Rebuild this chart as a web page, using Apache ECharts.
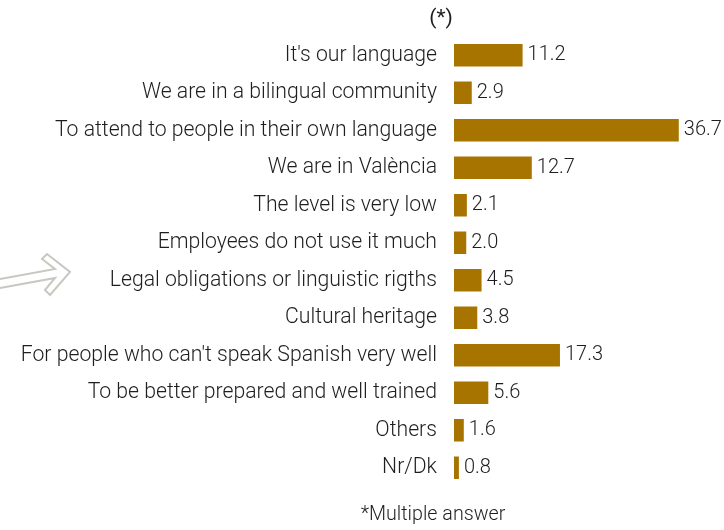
<!DOCTYPE html>
<html>
<head>
<meta charset="utf-8">
<script src="https://cdn.jsdelivr.net/npm/echarts@6/dist/echarts.min.js"></script>
<style>
html,body{margin:0;padding:0;background:#fff;}
#chart{width:724px;height:530px;}
</style>
</head>
<body>
<div id="chart"></div>
<script>
var categories = [
  "It's our language",
  "We are in a bilingual community",
  "To attend to people in their own language",
  "We are in València",
  "The level is very low",
  "Employees do not use it much",
  "Legal obligations or linguistic rigths",
  "Cultural heritage",
  "For people who can't speak Spanish very well",
  "To be better prepared and well trained",
  "Others",
  "Nr/Dk"
];
var values = [11.2, 2.9, 36.7, 12.7, 2.1, 2.0, 4.5, 3.8, 17.3, 5.6, 1.6, 0.8];
var titleText = "(*)";
var footText = "*Multiple answer";

var FONT = "Roboto";
var chart = echarts.init(document.getElementById('chart'), null, {renderer: 'canvas'});
chart.setOption({
  backgroundColor: '#ffffff',
  animation: false,
  grid: {left: 454, right: 25, top: 36.5, bottom: 43.5, containLabel: false},
  xAxis: {
    type: 'value', min: 0, max: 40, show: false
  },
  yAxis: {
    type: 'category', inverse: true, data: categories,
    axisLine: {show: false}, axisTick: {show: false}, splitLine: {show: false},
    axisLabel: {margin: 17, fontFamily: FONT, fontWeight: 300, fontSize: 21.2, color: '#1e1e1e'}
  },
  series: [{
    type: 'bar', data: values, barWidth: '60%',
    itemStyle: {color: '#A87400'},
    label: {show: true, position: 'right', distance: 5,
      formatter: function(p){ return p.value.toFixed(1); },
      fontFamily: FONT, fontWeight: 300, fontSize: 20, color: '#1e1e1e'}
  }],
  graphic: [{
    type: 'polyline',
    shape: {points: [[0,279],[55,269],[42,259],[47,254],[70,272],[50,295],[45,290],[55,278],[0,288]]},
    style: {stroke: '#C8C8C0', lineWidth: 2, fill: null}
  }, {
    type: 'text', x: 441, y: 19,
    style: {text: titleText, textAlign: 'center', textVerticalAlign: 'middle',
      font: '400 21px Roboto', fill: '#1e1e1e'}
  }, {
    type: 'text', x: 433, y: 515,
    style: {text: footText, textAlign: 'center', textVerticalAlign: 'middle',
      font: '300 19.7px Roboto', fill: '#1e1e1e'}
  }]
});
</script>
</body>
</html>
